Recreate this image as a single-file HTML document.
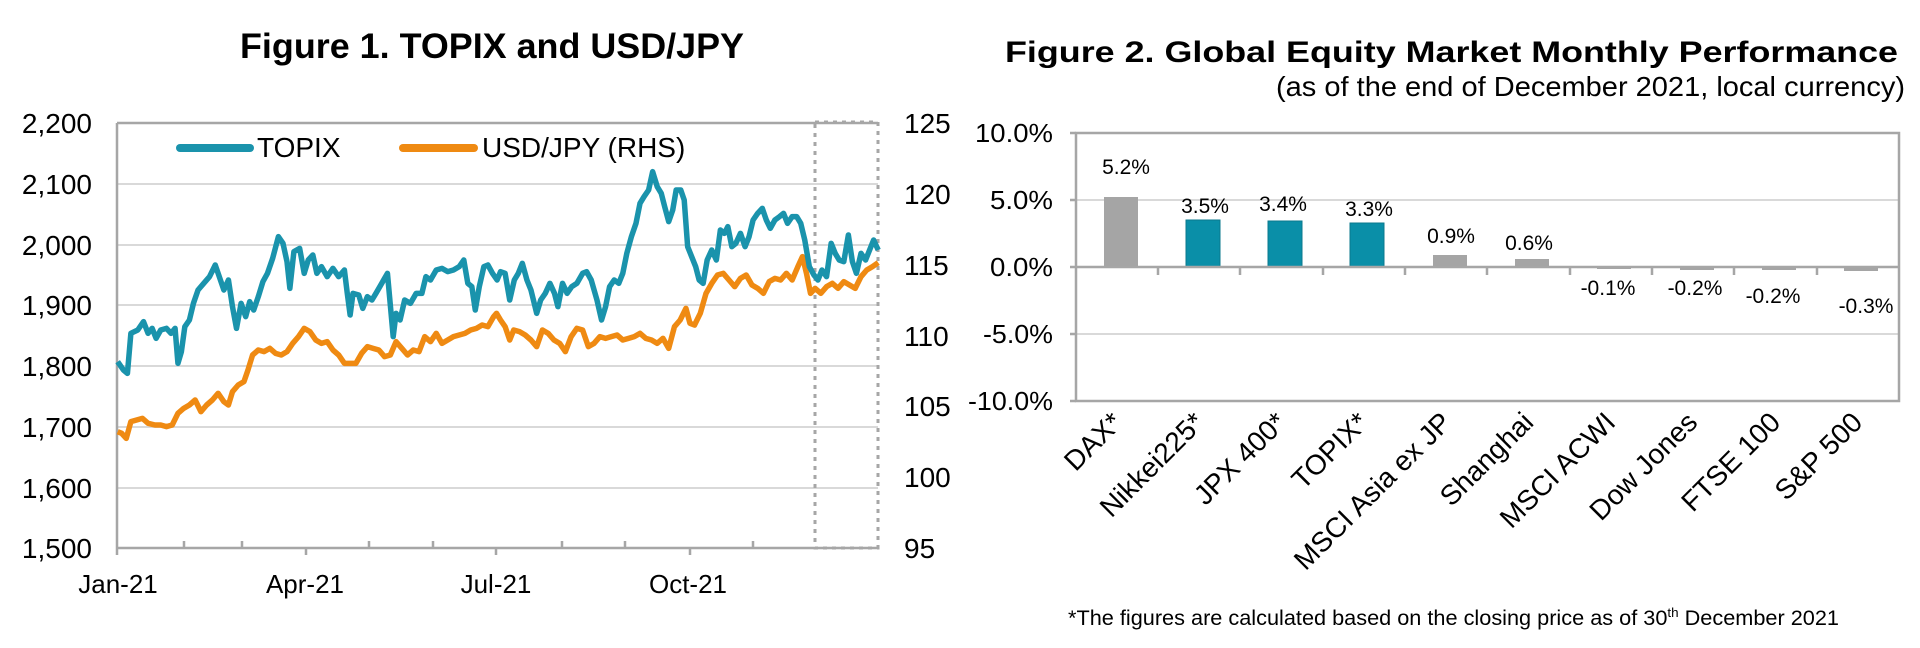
<!DOCTYPE html>
<html><head><meta charset="utf-8"><style>
html,body{margin:0;padding:0;background:#fff;}
svg{display:block;font-family:"Liberation Sans",Arial,sans-serif;}
</style></head><body>
<svg width="1920" height="648" viewBox="0 0 1920 648" xmlns="http://www.w3.org/2000/svg">
<!-- Figure 1 -->
<text x="240" y="58" font-size="35" font-weight="bold" textLength="504" lengthAdjust="spacingAndGlyphs">Figure 1. TOPIX and USD/JPY</text>
<g stroke="#d9d9d9" stroke-width="2">
<line x1="117" y1="184" x2="878" y2="184"/><line x1="117" y1="245" x2="878" y2="245"/>
<line x1="117" y1="305" x2="878" y2="305"/><line x1="117" y1="366" x2="878" y2="366"/>
<line x1="117" y1="427" x2="878" y2="427"/><line x1="117" y1="488" x2="878" y2="488"/>
</g>
<g stroke="#a6a6a6" stroke-width="2.5" fill="none">
<line x1="117" y1="123" x2="878" y2="123"/>
<line x1="117" y1="123" x2="117" y2="555"/>
<line x1="117" y1="548" x2="878" y2="548"/>
<path d="M184 548v-7M242 548v-7M369 548v-7M433 548v-7M562 548v-7M625 548v-7M753 548v-7M306 548v7M496 548v7M690 548v7"/>
</g>
<rect x="815" y="122" width="63" height="426" fill="none" stroke="#a6a6a6" stroke-width="3" stroke-dasharray="4 5"/>
<g font-size="28" text-anchor="end">
<text x="92" y="133">2,200</text><text x="92" y="194">2,100</text><text x="92" y="255">2,000</text>
<text x="92" y="315">1,900</text><text x="92" y="376">1,800</text><text x="92" y="437">1,700</text>
<text x="92" y="498">1,600</text><text x="92" y="558">1,500</text>
</g>
<g font-size="28">
<text x="904" y="133">125</text><text x="904" y="204">120</text><text x="904" y="275">115</text>
<text x="904" y="346">110</text><text x="904" y="416">105</text><text x="904" y="487">100</text>
<text x="904" y="558">95</text>
</g>
<g font-size="26" text-anchor="middle">
<text x="118" y="593">Jan-21</text><text x="305" y="593">Apr-21</text>
<text x="496" y="593">Jul-21</text><text x="688" y="593">Oct-21</text>
</g>
<line x1="180" y1="148" x2="250" y2="148" stroke="#1a93ac" stroke-width="8" stroke-linecap="round"/>
<text x="257" y="157" font-size="28">TOPIX</text>
<line x1="403" y1="148" x2="474" y2="148" stroke="#ef8a12" stroke-width="8" stroke-linecap="round"/>
<text x="482" y="157" font-size="28">USD/JPY (RHS)</text>
<g transform="translate(0,80) scale(0.574,0.33333)" fill="none" stroke-linejoin="round">
<polyline vector-effect="non-scaling-stroke" stroke="#ef8a12" stroke-width="5.5" points="205,1055 212,1060 220,1075 228,1025 238,1020 248,1015 258,1030 270,1035 280,1035 290,1040 300,1035 310,1000 320,985 330,975 340,960 350,995 360,975 370,960 380,940 390,965 398,975 405,935 415,915 425,905 432,870 440,825 450,810 460,815 470,805 480,820 490,825 500,815 510,790 520,770 530,745 540,755 550,780 560,790 570,785 580,810 590,825 600,850 610,850 620,850 630,820 640,800 650,805 660,810 670,830 680,825 690,785 700,805 710,825 720,810 730,815 740,770 750,785 760,760 770,790 780,780 790,770 800,765 810,760 820,750 830,745 840,735 850,740 860,710 865,700 872,720 880,740 888,780 895,750 905,755 915,765 925,780 935,800 945,750 955,760 965,780 975,790 985,815 995,770 1005,745 1015,750 1025,800 1035,790 1045,770 1055,775 1065,770 1075,765 1085,780 1095,775 1105,770 1115,760 1125,775 1135,780 1145,790 1155,775 1165,805 1175,740 1185,720 1195,685 1202,730 1210,735 1220,700 1230,640 1240,610 1250,585 1260,580 1270,600 1280,620 1290,595 1300,585 1310,615 1320,625 1330,640 1340,605 1350,595 1360,600 1370,580 1380,600 1390,560 1398,530 1405,580 1412,640 1420,625 1430,640 1440,620 1450,610 1460,625 1470,605 1480,615 1490,625 1500,590 1510,570 1520,560 1530,548"/>
<polyline vector-effect="non-scaling-stroke" stroke="#1a93ac" stroke-width="5.5" points="205,845 215,870 222,880 228,760 240,750 250,725 258,760 265,745 272,775 280,750 290,745 298,760 305,745 310,850 316,815 322,740 330,720 337,670 345,630 355,610 365,590 375,555 382,590 390,630 398,600 405,680 412,745 420,670 428,710 435,665 442,690 450,650 458,605 466,580 475,535 485,470 493,490 500,545 505,625 512,515 522,505 530,580 537,540 545,525 552,580 560,560 570,590 580,565 590,590 600,570 605,640 610,705 615,640 625,645 632,685 640,650 648,660 655,640 665,610 675,580 685,770 690,700 697,720 705,660 715,670 725,640 735,640 742,590 750,600 760,570 770,565 780,575 790,570 800,560 808,540 815,610 822,620 828,690 835,620 843,560 850,555 858,580 866,600 872,575 880,580 888,660 896,600 903,580 910,550 918,600 925,630 935,700 942,660 950,640 958,610 966,640 972,680 980,610 988,640 996,620 1005,610 1015,580 1022,575 1030,600 1040,660 1048,720 1055,680 1062,620 1070,600 1078,610 1085,580 1092,520 1100,470 1108,430 1115,370 1122,350 1130,330 1137,275 1145,320 1152,340 1158,380 1165,425 1172,390 1178,330 1186,330 1192,360 1198,500 1205,530 1212,560 1218,600 1225,610 1232,540 1240,510 1248,540 1255,450 1262,460 1268,440 1275,500 1282,490 1290,460 1298,500 1305,470 1312,420 1320,400 1328,385 1335,420 1342,445 1350,420 1358,410 1365,400 1372,430 1380,410 1388,410 1395,430 1402,480 1410,560 1418,585 1425,600 1432,570 1440,590 1448,490 1455,520 1462,540 1470,545 1478,465 1485,545 1492,580 1500,520 1508,540 1515,510 1522,480 1530,510"/>
</g>

<!-- Figure 2 -->
<text x="1005" y="62" font-size="30" font-weight="bold" textLength="893" lengthAdjust="spacingAndGlyphs">Figure 2. Global Equity Market Monthly Performance</text>
<text x="1276" y="96" font-size="28" textLength="629" lengthAdjust="spacingAndGlyphs">(as of the end of December 2021, local currency)</text>
<g stroke="#d9d9d9" stroke-width="2">
<line x1="1076" y1="200" x2="1899" y2="200"/><line x1="1076" y1="334" x2="1899" y2="334"/>
</g>
<g fill="#a5a5a5">
<rect x="1104" y="197" width="34" height="70"/>
<rect x="1433" y="255" width="34" height="12"/>
<rect x="1515" y="259" width="34" height="8"/>
<rect x="1597" y="267" width="34" height="2"/>
<rect x="1680" y="267" width="34" height="3"/>
<rect x="1762" y="267" width="34" height="3"/>
<rect x="1844" y="267" width="34" height="4"/>
</g>
<g fill="#0a8fa8" stroke="#0b7a8e" stroke-width="1">
<rect x="1186" y="220" width="34" height="47"/>
<rect x="1268" y="221" width="34" height="46"/>
<rect x="1350" y="223" width="34" height="44"/>
</g>
<g stroke="#a6a6a6" stroke-width="2.5" fill="none">
<rect x="1076" y="133" width="823" height="268"/>
<line x1="1076" y1="267" x2="1899" y2="267"/>
<path d="M1070 133h6M1070 200h6M1070 267h6M1070 334h6M1070 401h6M1158 267v8M1240 267v8M1323 267v8M1405 267v8M1487 267v8M1570 267v8M1652 267v8M1734 267v8M1817 267v8"/>
</g>
<g font-size="26" text-anchor="end">
<text x="1053" y="142" textLength="78" lengthAdjust="spacingAndGlyphs">10.0%</text>
<text x="1053" y="209" textLength="63" lengthAdjust="spacingAndGlyphs">5.0%</text>
<text x="1053" y="276" textLength="63" lengthAdjust="spacingAndGlyphs">0.0%</text>
<text x="1053" y="343" textLength="70" lengthAdjust="spacingAndGlyphs">-5.0%</text>
<text x="1053" y="410" textLength="85" lengthAdjust="spacingAndGlyphs">-10.0%</text>
</g>
<g font-size="21" text-anchor="middle">
<text x="1126" y="174">5.2%</text><text x="1205" y="213">3.5%</text>
<text x="1283" y="211">3.4%</text><text x="1369" y="216">3.3%</text>
<text x="1451" y="243">0.9%</text><text x="1529" y="250">0.6%</text>
<text x="1608" y="295">-0.1%</text><text x="1695" y="295">-0.2%</text>
<text x="1773" y="303">-0.2%</text><text x="1866" y="313">-0.3%</text>
</g>
<g font-size="28" text-anchor="end">
<text transform="translate(1124,424) rotate(-45)">DAX*</text>
<text transform="translate(1206,424) rotate(-45)">Nikkei225*</text>
<text transform="translate(1288,424) rotate(-45)">JPX 400*</text>
<text transform="translate(1370,424) rotate(-45)">TOPIX*</text>
<text transform="translate(1453,424) rotate(-45)">MSCI Asia ex JP</text>
<text transform="translate(1535,424) rotate(-45)">Shanghai</text>
<text transform="translate(1617,424) rotate(-45)">MSCI ACWI</text>
<text transform="translate(1699,424) rotate(-45)">Dow Jones</text>
<text transform="translate(1782,424) rotate(-45)">FTSE 100</text>
<text transform="translate(1864,424) rotate(-45)">S&amp;P 500</text>
</g>
<text x="1068" y="625" font-size="21" textLength="771" lengthAdjust="spacingAndGlyphs">*The figures are calculated based on the closing price as of 30<tspan font-size="13" dy="-8">th</tspan><tspan dy="8"> December 2021</tspan></text>
</svg>
</body></html>
